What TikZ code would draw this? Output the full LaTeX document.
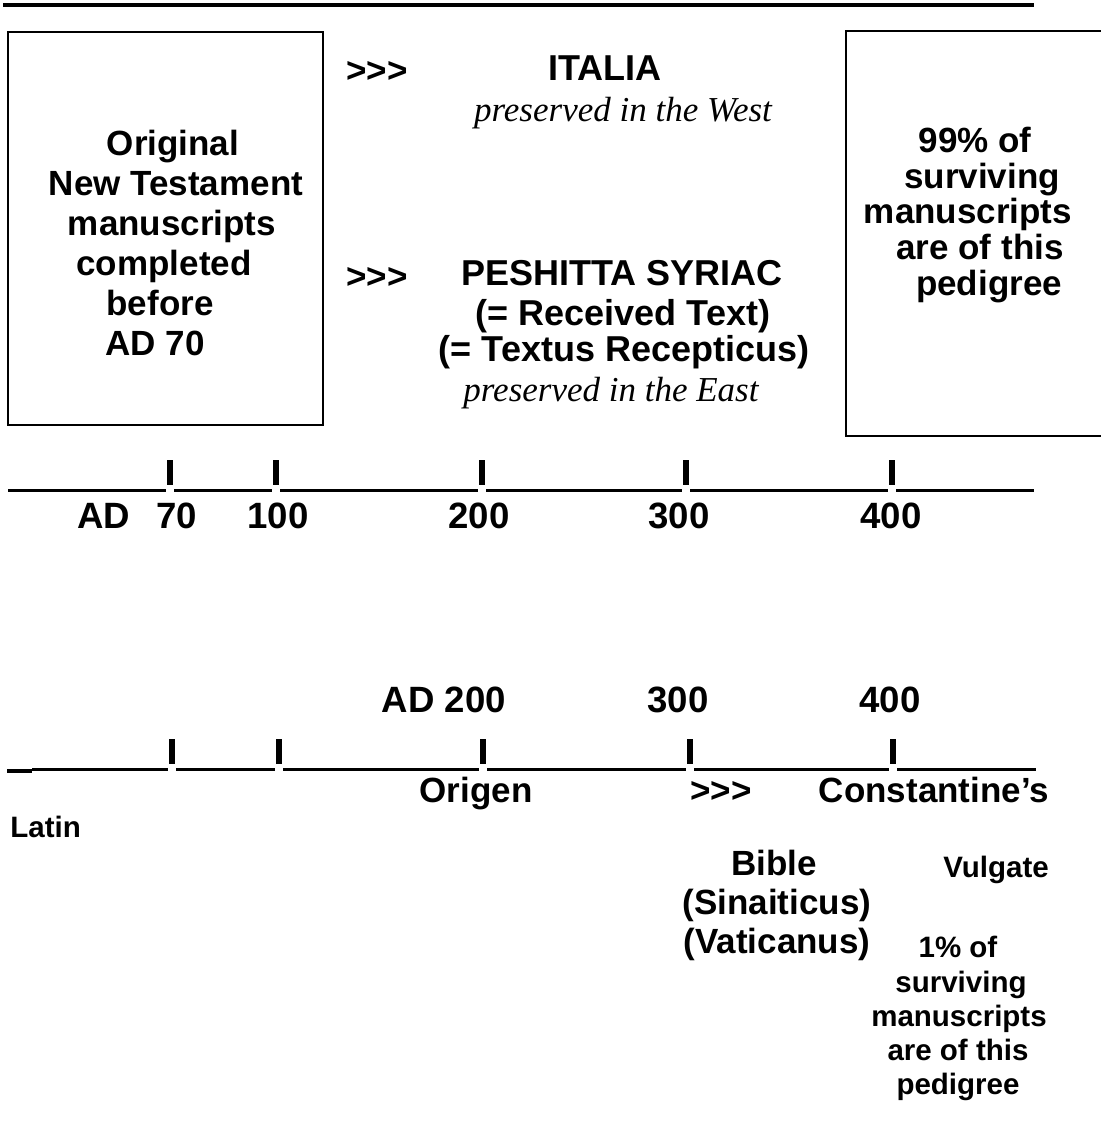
\documentclass[tikz,border=0pt]{standalone}
\usepackage{fontspec}
\setmainfont{Liberation Sans}
\newfontfamily\timesit{Liberation Serif}
\usetikzlibrary{positioning}

\begin{document}
\begin{tikzpicture}[
  x=0.5pt, y=-0.5pt,
  txt/.style={anchor=base, inner sep=0pt, font=\fontsize{17.5}{20}\selectfont\bfseries},
  mid/.style={txt, font=\fontsize{18}{20}\selectfont\bfseries},
  yr/.style={txt, font=\fontsize{18.3}{20}\selectfont\bfseries},
  sm/.style={txt, font=\fontsize{14.75}{17}\selectfont\bfseries},
  ital/.style={anchor=base, inner sep=0pt, font=\fontsize{17.5}{20}\selectfont\timesit\itshape},
  frame/.style={line width=1pt},
  rule/.style={line width=1.5pt},
  tick/.style={line width=3pt}
]
\useasboundingbox (0,0) rectangle (1101,1141);

% top rule and the two boxes
\draw[line width=2pt] (3,5) -- (1034,5);
\draw[frame] (8,32) rectangle (323,425);
\draw[frame] (1102,31) -- (846,31) -- (846,436) -- (1102,436);

% left box
\node[txt] (orig1) at (173,155) {Original};
\node[txt] (orig2) at (176,195) {New Testament};
\node[txt] (orig3) at (172,235) {manuscripts};
\node[txt] (orig4) at (164,275) {completed};
\node[txt] (orig5) at (160,315) {before};
\node[txt] (orig6) at (155,355) {AD 70};

% middle column
\node[txt] (arrW) at (377,82) {>{}>{}>};
\node[mid] (italia) at (605,80) {ITALIA};
\node[ital] (west) at (623,121) {preserved in the West};
\node[txt] (arrE) at (377,288) {>{}>{}>};
\node[mid] (pesh) at (622,285) {PESHITTA SYRIAC};
\node[mid] (recv) at (623,325) {(= Received Text)};
\node[mid] (recep) at (624,361) {(= Textus Recepticus)};
\node[ital] (east) at (611,401) {preserved in the East};

% right box
\node[txt] (maj1) at (975,152) {99\% of};
\node[txt] (maj2) at (982,188) {surviving};
\node[txt] (maj3) at (968,223) {manuscripts};
\node[txt] (maj4) at (980,259) {are of this};
\node[txt] (maj5) at (989,295) {pedigree};

% upper timeline
\draw[rule] (8,490) -- (166,490) (174,490) -- (272,490) (280,490) -- (478,490)
  (486,490) -- (682,490) (690,490) -- (888,490) (896,490) -- (1034,490);
\foreach \t in {170,276,482,686,892}
  \draw[tick] (\t,460) -- (\t,485);
\node[yr] (ad) at (104,528) {AD};
\node[yr] (y70) at (177,528) {70};
\node[yr] (y100) at (278,528) {100};
\node[yr] (y200) at (479,528) {200};
\node[yr] (y300) at (679,528) {300};
\node[yr] (y400) at (891,528) {400};

% lower timeline
\node[yr] (ad200) at (444,712) {AD 200};
\node[yr] (z300) at (678,712) {300};
\node[yr] (z400) at (890,712) {400};
\draw[line width=2pt] (7,771) -- (32,771);
\draw[rule] (32,769) -- (168,769) (176,769) -- (275,769) (283,769) -- (479,769)
  (487,769) -- (686,769) (694,769) -- (889,769) (897,769) -- (1036,769);
\foreach \t in {172,279,483,690,893}
  \draw[tick] (\t,739) -- (\t,764);

\node[txt] (origen) at (476,802) {Origen};
\node[txt] (arrC) at (721,802) {>{}>{}>};
\node[txt] (const) at (934,802) {Constantine’s};
\node[sm, anchor=base west] (latin) at (10,837) {Latin};

\node[txt] (bible1) at (774,875) {Bible};
\node[txt] (bible2) at (777,914) {(Sinaiticus)};
\node[txt] (bible3) at (777,953) {(Vaticanus)};
\node[sm] (vulg) at (996,877) {Vulgate};

\node[sm] (min1) at (958,957) {1\% of};
\node[sm] (min2) at (961,992) {surviving};
\node[sm] (min3) at (959,1026) {manuscripts};
\node[sm] (min4) at (958,1060) {are of this};
\node[sm] (min5) at (958,1094) {pedigree};
\end{tikzpicture}
\end{document}
